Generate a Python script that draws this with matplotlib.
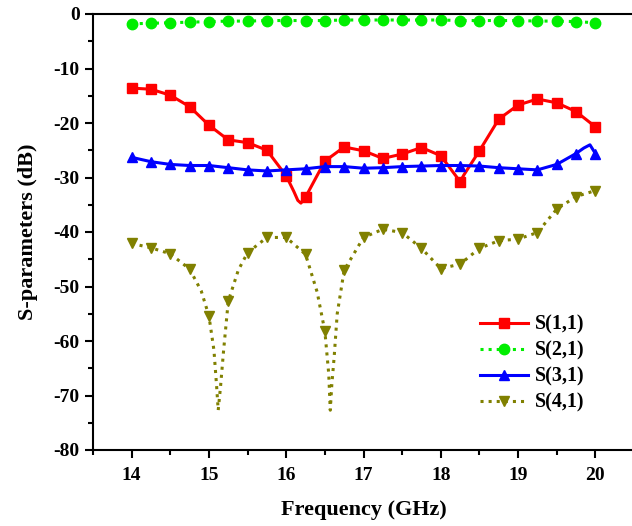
import numpy as np
import matplotlib.pyplot as plt
from matplotlib.ticker import MultipleLocator

# marker frequencies (GHz)
freq = [14.0, 14.25, 14.5, 14.75, 15.0, 15.25, 15.5, 15.75, 16.0, 16.25, 16.5, 16.75,
        17.0, 17.25, 17.5, 17.75, 18.0, 18.25, 18.5, 18.75, 19.0, 19.25, 19.5, 19.75, 20.0]

s11 = [-13.6, -13.8, -14.9, -17.0, -20.4, -23.1, -23.6, -25.0, -29.7, -33.6, -27.0, -24.4,
       -25.1, -26.5, -25.7, -24.5, -26.0, -30.8, -25.1, -19.3, -16.7, -15.6, -16.3, -17.9, -20.7]
s21 = [-1.8, -1.7, -1.6, -1.5, -1.4, -1.3, -1.3, -1.2, -1.2, -1.2, -1.2, -1.1,
       -1.1, -1.1, -1.1, -1.1, -1.1, -1.2, -1.2, -1.2, -1.2, -1.3, -1.3, -1.4, -1.6]
s31 = [-26.3, -27.1, -27.6, -27.8, -27.8, -28.2, -28.6, -28.8, -28.6, -28.4, -28.0, -28.0,
       -28.3, -28.2, -28.0, -27.9, -27.8, -27.8, -27.9, -28.2, -28.4, -28.6, -27.6, -25.6, -25.6]
s41 = [-42.1, -42.9, -44.0, -46.8, -55.4, -52.7, -43.8, -41.0, -41.0, -44.1, -58.2, -47.0,
       -41.0, -39.5, -40.1, -43.0, -46.7, -45.9, -43.0, -41.6, -41.3, -40.1, -35.8, -33.5, -32.4]

# extra points (line only)
s11_xf = [16.1, 16.15, 16.19, 18.2, 18.3]
s11_xv = [-32.6, -34.2, -34.7, -29.8, -29.5]
s21_xf = []
s21_xv = []
s31_xf = [19.85, 19.93]
s31_xv = [-24.6, -24.0]
s41_xf = [14.9, 15.065, 15.1, 15.12, 15.15, 15.19, 15.38, 16.4, 16.55, 16.57, 16.59, 16.62, 16.66]
s41_xv = [-50.8, -61.7, -68.4, -72.7, -68.4, -61.7, -47.0, -51.0, -66.0, -72.7, -68.0, -63.0, -55.0]

labels = ['S(1,1)', 'S(2,1)', 'S(3,1)', 'S(4,1)']
colors = ['#ff0000', '#00ee00', '#0000ff', '#808000']
styles = ['-', ':', '-', ':']
marks = ['s', 'o', '^', 'v']

plt.rcParams['font.family'] = 'Liberation Serif'
plt.rcParams['font.weight'] = 'bold'
plt.rcParams['axes.unicode_minus'] = False

fig = plt.figure(figsize=(6.32, 5.26), dpi=100)
ax = fig.add_axes([93 / 632, 1 - 450 / 526, 541 / 632, 436 / 526])

series = [(s11, s11_xf, s11_xv), (s21, s21_xf, s21_xv), (s31, s31_xf, s31_xv), (s41, s41_xf, s41_xv)]
for (vals, xf, xv), lab, c, ls, m in zip(series, labels, colors, styles, marks):
    fx = np.array(list(freq) + list(xf))
    fy = np.array(list(vals) + list(xv))
    order = np.argsort(fx)
    fx, fy = fx[order], fy[order]
    idx = list(np.where(np.isin(fx, freq))[0])
    ax.plot(fx, fy, linestyle=ls, color=c, lw=2.2, marker=m, markersize=7.5,
            markevery=idx, label=lab)

ax.set_xlim(13.5, 20.5)
ax.set_ylim(-80, 0)
ax.xaxis.set_major_locator(MultipleLocator(1))
ax.xaxis.set_minor_locator(MultipleLocator(0.5))
ax.yaxis.set_major_locator(MultipleLocator(10))
ax.yaxis.set_minor_locator(MultipleLocator(5))
ax.tick_params(which='major', direction='out', length=6, width=1.5, labelsize=14,
               top=False, right=False)
ax.tick_params(which='minor', direction='out', length=3.5, width=1.5, top=False, right=False)
ax.tick_params(axis='x', which='major', pad=6)
for sp in ax.spines.values():
    sp.set_linewidth(1.5)

ax.set_xlabel('Frequency (GHz)', fontsize=16, fontweight='bold', labelpad=12)
ax.set_ylabel('S-parameters (dB)', fontsize=16, fontweight='bold', labelpad=11)

ax.legend(loc='upper left', bbox_to_anchor=(0.715, 0.31), frameon=False,
          prop={'family': 'Liberation Serif', 'weight': 'bold', 'size': 14.5},
          handlelength=2.4, handletextpad=0.35, labelspacing=0.3, borderpad=0,
          borderaxespad=0)

fig.savefig('out.png', dpi=100)
